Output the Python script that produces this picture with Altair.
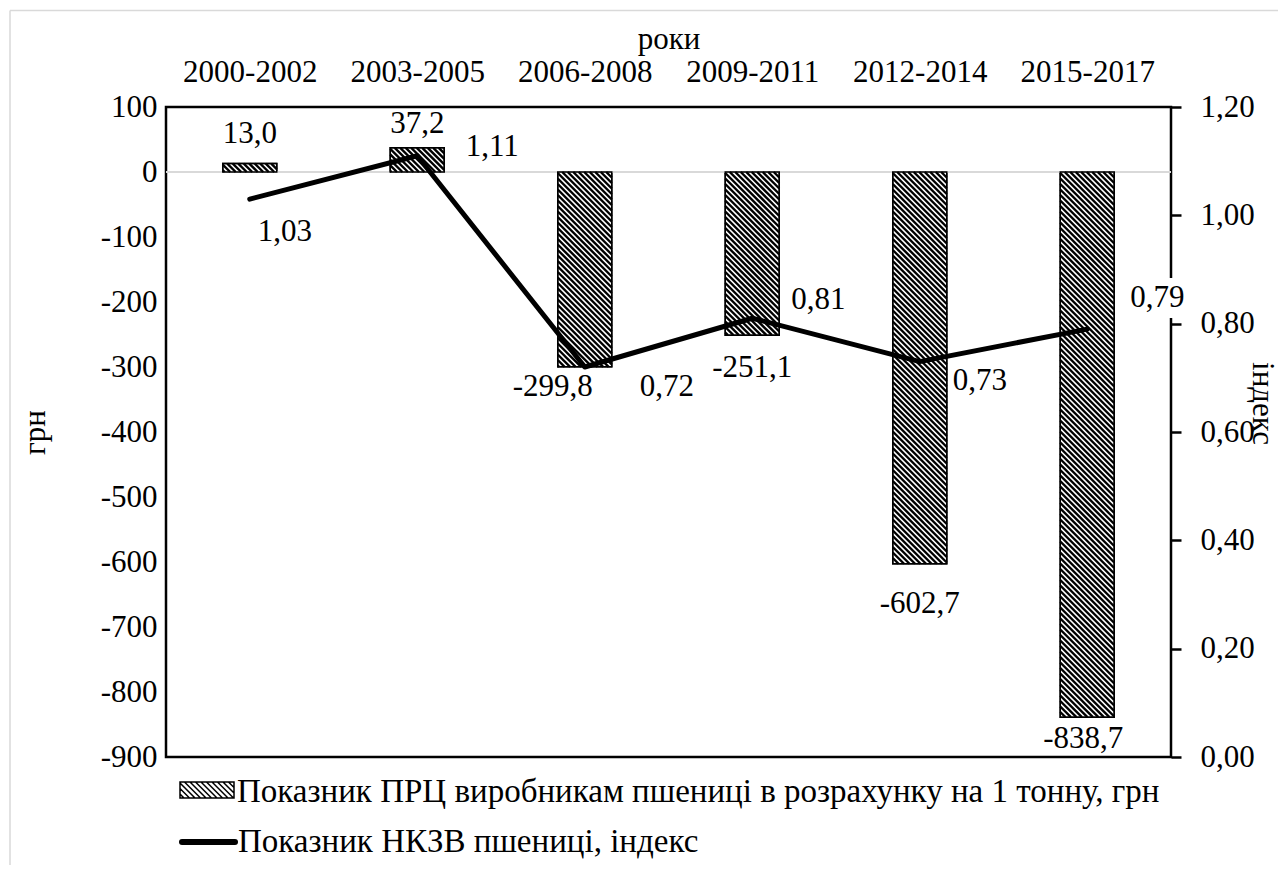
import json
import numpy as np
import pandas as pd
import altair as alt

# ---------------- data ----------------
periods = ["2000-2002", "2003-2005", "2006-2008", "2009-2011", "2012-2014", "2015-2017"]
prc_values = [13.0, 37.2, -299.8, -251.1, -602.7, -838.7]
nkzv_values = [1.03, 1.11, 0.72, 0.81, 0.73, 0.79]

legend_bar = "Показник ПРЦ виробникам пшениці в розрахунку на 1 тонну, грн"
legend_line = "Показник НКЗВ пшениці, індекс"

# ---------------- layout / style ----------------
FONT = "Liberation Serif"
FS = 31
FS_LEG = 33
W, H = 1005, 650
X_DOM = [-0.5, 5.5]
Y_DOM = [-900, 100]
Y2_DOM = [0, 1.2]
PX_X = W / (X_DOM[1] - X_DOM[0])
PX_Y = H / (Y_DOM[1] - Y_DOM[0])
BAR_HALF_PX = 27
HATCH_STEP = 5.5

bar_label_off = [(0, -30), (0, -24), (-32, 20), (0, 33), (0, 40), (-4, 22)]
line_label_off = [(35, 33), (75, -9), (82, 20), (66, -18), (60, 19), (70, -31)]
LBL_BOX_W, LBL_BOX_H = 60, 40

df = pd.DataFrame({
    "idx": list(range(len(periods))),
    "period": periods,
    "prc": prc_values,
    "nkzv": nkzv_values,
})
half = BAR_HALF_PX / PX_X
df["x1"] = df["idx"] - half
df["x2"] = df["idx"] + half
df["zero"] = 0.0
df["prc_lbl"] = [f"{v:.1f}".replace(".", ",") for v in prc_values]
df["nkzv_lbl"] = [f"{v:.2f}".replace(".", ",") for v in nkzv_values]

rows = []
for i, v in enumerate(prc_values):
    top = max(v, 0.0)
    hpx = abs(v) * PX_Y
    wpx = 2 * BAR_HALF_PX
    for c in np.arange(-wpx, hpx, HATCH_STEP):
        p0 = max(0.0, -c)
        p1 = min(wpx, hpx - c)
        if p1 - p0 <= 0.3:
            continue
        rows.append({
            "hx1": i + (-BAR_HALF_PX + p0) / PX_X,
            "hx2": i + (-BAR_HALF_PX + p1) / PX_X,
            "hy1": top - (p0 + c) / PX_Y,
            "hy2": top - (p1 + c) / PX_Y,
        })
hatch_df = pd.DataFrame(rows)

def swatch_path(hw_px=27, hh_px=8, step=HATCH_STEP):
    s = hw_px
    hh = hh_px / s
    parts = [f"M-1,{-hh:.4f}L1,{-hh:.4f}L1,{hh:.4f}L-1,{hh:.4f}Z"]
    wpx, hpx = 2 * hw_px, 2 * hh_px
    for c in np.arange(-wpx, hpx, step):
        p0 = max(0.0, -c)
        p1 = min(wpx, hpx - c)
        if p1 - p0 <= 0.3:
            continue
        xa, ya = -1 + p0 / s, -hh + (p0 + c) / s
        xb, yb = -1 + p1 / s, -hh + (p1 + c) / s
        parts.append(f"M{xa:.4f},{ya:.4f}L{xb:.4f},{yb:.4f}")
    return "".join(parts)

xs = alt.Scale(domain=X_DOM, nice=False, zero=False)
ys = alt.Scale(domain=Y_DOM, nice=False, zero=False)
y2s = alt.Scale(domain=Y2_DOM, nice=False, zero=False)

top_axis = alt.Axis(
    orient="top", values=list(range(len(periods))),
    labelExpr=json.dumps(periods).replace('"', "'") + "[datum.value]",
    title="роки", titleY=-68, titleBaseline="middle",
    labelBaseline="middle", labelPadding=35, ticks=False,
    domain=False, grid=False, labelFlush=False, labelOverlap=False,
)
left_axis = alt.Axis(
    orient="left", values=list(range(-900, 101, 100)),
    labelExpr="datum.value + ''",
    title="грн", titleX=-122, titleY=H / 2, titleAngle=270,
    titleAlign="center", titleBaseline="alphabetic",
    labelPadding=9, ticks=False, domain=False, grid=False,
    labelFlush=False, labelOverlap=False,
)
right_axis = alt.Axis(
    orient="right", values=[0, 0.2, 0.4, 0.6, 0.8, 1.0, 1.2],
    labelExpr="replace(format(datum.value, '.2f'), '.', ',')",
    title="індекс", titleX=90, titleY=296, titleAngle=90,
    titleAlign="center", titleBaseline="middle",
    labelPadding=19, ticks=True, tickSize=10, tickWidth=2.5, tickColor="black",
    domain=False, grid=False, labelFlush=False, labelOverlap=False,
)

base = alt.Chart(df)

zero_rule = alt.Chart(pd.DataFrame({"zero": [0.0]})).mark_rule(
    color="#d9d9d9", strokeWidth=2
).encode(y=alt.Y("zero:Q", scale=ys))

bars = base.mark_rect(fill="white", stroke="black", strokeWidth=1.5).encode(
    x=alt.X("x1:Q", scale=xs, axis=top_axis),
    x2="x2:Q",
    y=alt.Y("prc:Q", scale=ys, axis=left_axis),
    y2="zero:Q",
)

hatch = alt.Chart(hatch_df).mark_rule(color="black", strokeWidth=2.4).encode(
    x=alt.X("hx1:Q", scale=xs),
    x2="hx2:Q",
    y=alt.Y("hy1:Q", scale=ys),
    y2="hy2:Q",
)

outline = base.mark_rect(fillOpacity=0, stroke="black", strokeWidth=1.5).encode(
    x=alt.X("x1:Q", scale=xs),
    x2="x2:Q",
    y=alt.Y("prc:Q", scale=ys),
    y2="zero:Q",
)

bar_labels = []
for i, (dx, dy) in enumerate(bar_label_off):
    bar_labels.append(
        base.transform_filter(alt.datum.idx == i).mark_text(
            fontSize=FS, color="black", dx=dx, dy=dy,
            align="center", baseline="middle",
        ).encode(
            x=alt.X("idx:Q", scale=xs),
            y=alt.Y("prc:Q", scale=ys),
            text="prc_lbl:N",
        )
    )

line = base.mark_line(color="black", strokeWidth=5, strokeCap="round", strokeJoin="round").encode(
    x=alt.X("idx:Q", scale=xs),
    y=alt.Y("nkzv:Q", scale=y2s, axis=right_axis),
)

line_labels = []
for i, (dx, dy) in enumerate(line_label_off):
    sub = base.transform_filter(alt.datum.idx == i)
    line_labels.append(
        sub.mark_rect(
            fill="white", stroke=None,
            xOffset=dx - LBL_BOX_W / 2, x2Offset=dx + LBL_BOX_W / 2,
            yOffset=dy - LBL_BOX_H / 2, y2Offset=dy + LBL_BOX_H / 2,
        ).encode(
            x=alt.X("idx:Q", scale=xs), x2="idx:Q",
            y=alt.Y("nkzv:Q", scale=y2s), y2="nkzv:Q",
        )
    )
    line_labels.append(
        sub.mark_text(
            fontSize=FS, color="black", dx=dx, dy=dy,
            align="center", baseline="middle",
        ).encode(
            x=alt.X("idx:Q", scale=xs),
            y=alt.Y("nkzv:Q", scale=y2s),
            text="nkzv_lbl:N",
        )
    )

one = pd.DataFrame({"a": [0]})
frame_top = alt.Chart(one).mark_rule(color="#d9d9d9", strokeWidth=1.5).encode(
    x=alt.value(-156), x2=alt.value(1120), y=alt.value(-96.5)
)
frame_left = alt.Chart(one).mark_rule(color="#d9d9d9", strokeWidth=1.5).encode(
    x=alt.value(-156), y=alt.value(-96.5), y2=alt.value(760)
)
leg_sym = alt.Chart(one).mark_point(
    shape=swatch_path(), size=54 ** 2, filled=True, fill="white", stroke="black",
    strokeWidth=1.5, opacity=1, fillOpacity=1, strokeOpacity=1,
).encode(x=alt.value(41), y=alt.value(683))
leg_txt1 = alt.Chart(one).mark_text(
    text=legend_bar, fontSize=FS_LEG, color="black", align="left", baseline="middle"
).encode(x=alt.value(71), y=alt.value(685))
leg_line = alt.Chart(one).mark_rule(color="black", strokeWidth=6, strokeCap="round").encode(
    x=alt.value(16), x2=alt.value(69), y=alt.value(735)
)
leg_txt2 = alt.Chart(one).mark_text(
    text=legend_line, fontSize=FS_LEG, color="black", align="left", baseline="middle"
).encode(x=alt.value(72), y=alt.value(735))

left_group = alt.layer(
    bars, frame_top, frame_left, zero_rule, hatch, outline, *bar_labels,
    leg_sym, leg_txt1, leg_line, leg_txt2,
)
right_group = alt.layer(line, *line_labels)

chart = alt.layer(left_group, right_group).resolve_scale(y="independent").properties(
    width=W, height=H,
    autosize=alt.AutoSizeParams(type="none"),
    padding={"left": 158, "top": 99, "right": 107, "bottom": 108},
).configure(
    font=FONT,
).configure_axis(
    labelFont=FONT, labelFontSize=FS, labelColor="black",
    titleFont=FONT, titleFontSize=FS, titleFontWeight="normal", titleColor="black",
).configure_text(font=FONT).configure_view(stroke="black", strokeWidth=2.5)

chart.save("out.html", embed_options={"renderer": "svg", "actions": False})
